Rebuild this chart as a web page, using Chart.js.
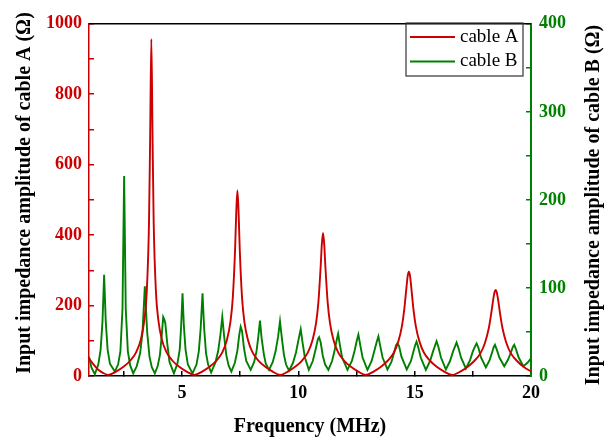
<!DOCTYPE html>
<html>
<head>
<meta charset="utf-8">
<script src="https://cdn.jsdelivr.net/npm/chart.js@4.4.1/dist/chart.umd.min.js"></script>
<style>
  html, body { margin: 0; padding: 0; background: #fff; }
  canvas { display: block; }
</style>
</head>
<body>
<canvas id="impChart" width="613" height="440"></canvas>
<script>
// cable A: frequency (MHz) / input impedance amplitude (ohm)
const freqA = [
  1.0, 1.2, 1.4, 1.6, 1.83,
  2.18, 2.48, 2.78, 3.03, 3.23, 3.38, 3.48, 3.58, 3.63, 3.68, 3.73, 3.78, 3.88, 3.98, 4.13, 4.33, 4.58, 4.88, 5.18, 5.53,
  5.88, 6.18, 6.48, 6.73, 6.93, 7.08, 7.18, 7.28, 7.33, 7.38, 7.43, 7.48, 7.58, 7.68, 7.83, 8.03, 8.28, 8.58, 8.88, 9.22,
  9.56, 9.86, 10.16, 10.41, 10.61, 10.76, 10.86, 10.96, 11.01, 11.06, 11.11, 11.16, 11.26, 11.36, 11.51, 11.71, 11.96, 12.26, 12.56, 12.9,
  13.25, 13.55, 13.85, 14.1, 14.3, 14.45, 14.55, 14.65, 14.7, 14.75, 14.8, 14.85, 14.95, 15.05, 15.2, 15.4, 15.65, 15.95, 16.25, 16.6,
  16.98, 17.28, 17.58, 17.83, 18.03, 18.18, 18.28, 18.38, 18.43, 18.48, 18.53, 18.58, 18.68, 18.78, 18.93, 19.13, 19.38, 19.68, 20.0
];
const zA = [
  50, 32, 18, 9, 3,
  13, 26, 44, 68, 104, 159, 236, 438, 687, 957, 687, 438, 236, 159, 104, 68, 44, 26, 13, 3,
  13, 26, 44, 67, 103, 154, 221, 360, 465, 527, 465, 360, 221, 154, 103, 67, 44, 26, 13, 3,
  13, 26, 44, 67, 102, 150, 209, 313, 375, 406, 375, 313, 209, 150, 102, 67, 44, 26, 13, 3,
  13, 26, 44, 66, 99, 141, 188, 254, 284, 296, 284, 254, 188, 141, 99, 66, 44, 26, 13, 3,
  13, 26, 44, 65, 96, 134, 173, 219, 237, 244, 237, 219, 173, 134, 96, 65, 44, 26, 13
];

// cable B: frequency (MHz) / input impedance amplitude (ohm)
const freqB = [
  1.0, 1.1, 1.25,
  1.4, 1.5, 1.58, 1.65, 1.72, 1.8, 1.9, 2.11,
  2.25, 2.35, 2.44, 2.51, 2.58, 2.67, 2.77, 2.9,
  3.05, 3.2, 3.3, 3.4, 3.5, 3.6, 3.7, 3.83,
  3.95, 4.05, 4.12, 4.19, 4.24, 4.28, 4.36, 4.46, 4.65,
  4.8, 4.9, 4.96, 5.02, 5.08, 5.15, 5.25, 5.45,
  5.62, 5.72, 5.8, 5.88, 5.95, 6.03, 6.12, 6.25,
  6.43, 6.55, 6.65, 6.73, 6.81, 6.9, 7.0, 7.12,
  7.27, 7.38, 7.46, 7.52, 7.58, 7.66, 7.76, 7.95,
  8.1, 8.2, 8.28, 8.35, 8.42, 8.52, 8.6, 8.74,
  8.9, 9.02, 9.13, 9.21, 9.29, 9.38, 9.47, 9.6,
  9.77, 9.9, 10.02, 10.1, 10.18, 10.28, 10.45,
  10.62, 10.73, 10.84, 10.89, 10.96, 11.05, 11.15, 11.29,
  11.45, 11.55, 11.64, 11.71, 11.78, 11.88, 12.11,
  12.3, 12.42, 12.51, 12.58, 12.66, 12.76, 12.97,
  13.15, 13.27, 13.37, 13.44, 13.52, 13.62, 13.83,
  14.0, 14.12, 14.2, 14.26, 14.33, 14.43, 14.66,
  14.84, 14.95, 15.02, 15.08, 15.15, 15.26, 15.48,
  15.66, 15.79, 15.88, 15.94, 16.02, 16.13, 16.34,
  16.52, 16.65, 16.74, 16.8, 16.88, 16.99, 17.2,
  17.38, 17.5, 17.6, 17.66, 17.74, 17.85, 18.06,
  18.22, 18.33, 18.4, 18.45, 18.53, 18.64, 18.85,
  19.02, 19.14, 19.22, 19.28, 19.36, 19.47, 19.67,
  19.85, 20.0
];
const zB = [
  22, 10, 2,
  13, 30, 62, 115, 62, 30, 14, 5,
  13, 28, 76, 227, 76, 28, 12, 3,
  11, 26, 50, 102, 50, 22, 10, 3,
  11, 24, 44, 67, 64, 60, 38, 16, 3,
  14, 30, 56, 94, 56, 30, 13, 3,
  13, 28, 54, 94, 54, 26, 13, 4,
  15, 28, 47, 67, 45, 24, 12, 5,
  15, 29, 47, 56, 51, 32, 17, 7,
  16, 28, 45, 63, 43, 24, 14, 7,
  16, 28, 45, 62, 43, 24, 13, 6,
  15, 27, 43, 53, 38, 21, 7,
  17, 29, 42, 44, 38, 23, 13, 7,
  17, 28, 40, 48, 36, 21, 7,
  17, 29, 40, 47, 35, 21, 7,
  17, 29, 39, 45, 34, 21, 7.5,
  16, 27, 35, 37, 34, 22, 7.5,
  17, 28, 35, 39, 33, 21, 7,
  17, 28, 35, 39.5, 33, 21, 7.5,
  17, 28, 34, 38, 32, 21, 8.6,
  18, 28, 34, 37, 32, 21, 9.7,
  18, 27, 33, 35.4, 30, 21, 11,
  19, 27, 33, 35.4, 30, 21, 11,
  15, 20
];

// tick marks (labels only on the major ones)
const xTicks = [2.5, 5, 7.5, 10, 12.5, 15, 17.5, 20];
const yTicksA = [0, 100, 200, 300, 400, 500, 600, 700, 800, 900, 1000];
const yTicksB = [0, 50, 100, 150, 200, 250, 300, 350, 400];
const xMajor = 5, yMajorA = 200, yMajorB = 100;

const seriesNames = ['cable A', 'cable B'];
const titleX = 'Frequency (MHz)';
const titleA = 'Input impedance amplitude of cable A (\u03A9)';
const titleB = 'Input impedance amplitude of cable B (\u03A9)';

const RED = '#cc0000';
const GREEN = '#008000';
const SERIF = "'Liberation Serif', 'Times New Roman', serif";

Chart.defaults.font.family = SERIF;

const toPoints = (xs, ys) => xs.map((x, i) => ({x, y: ys[i]}));
const setTicks = (list) => (scale) => { scale.ticks = list.map((value) => ({value})); };
const majorOnly = (step) => (v) => (v % step === 0 ? String(v) : '');

// axis titles, boxed legend and the top frame line
const decor = {
    id: 'decor',
    afterDraw(chart) {
        const {ctx, chartArea: a} = chart;
        ctx.save();
        // frame top
        ctx.strokeStyle = '#000';
        ctx.lineWidth = 1.5;
        ctx.beginPath();
        ctx.moveTo(a.left, a.top);
        ctx.lineTo(a.right, a.top);
        ctx.stroke();

        // titles
        ctx.fillStyle = '#000';
        ctx.font = `bold 20px ${SERIF}`;
        ctx.textAlign = 'center';
        ctx.textBaseline = 'middle';
        ctx.fillText(titleX, (a.left + a.right) / 2, 427);
        const vertical = (text, x, y) => {
            ctx.save();
            ctx.translate(x, y);
            ctx.rotate(-Math.PI / 2);
            ctx.fillText(text, 0, 0);
            ctx.restore();
        };
        vertical(titleA, 25, 193);
        vertical(titleB, 594, 205);

        // legend
        const box = {x: 406, y: 23, w: 117, h: 53};
        ctx.strokeStyle = '#333';
        ctx.lineWidth = 1.2;
        ctx.strokeRect(box.x, box.y, box.w, box.h);
        ctx.font = `19px ${SERIF}`;
        ctx.textAlign = 'left';
        chart.data.datasets.forEach((ds, i) => {
            const y = 37 + i * 24.5;
            ctx.strokeStyle = ds.borderColor;
            ctx.lineWidth = 1.8;
            ctx.beginPath();
            ctx.moveTo(410, y);
            ctx.lineTo(455, y);
            ctx.stroke();
            ctx.fillStyle = '#000';
            ctx.fillText(ds.label, 460, y);
        });
        ctx.restore();
    }
};

const inwardGrid = (color) => ({
    drawOnChartArea: false,
    color,
    lineWidth: 1.5,
    tickLength: -5,
});

new Chart(document.getElementById('impChart'), {
    type: 'line',
    data: {
        datasets: [
            {
                label: seriesNames[0],
                data: toPoints(freqA, zA),
                yAxisID: 'yA',
                borderColor: RED,
                borderWidth: 1.9,
                pointRadius: 0,
                cubicInterpolationMode: 'monotone',
            },
            {
                label: seriesNames[1],
                data: toPoints(freqB, zB),
                yAxisID: 'yB',
                borderColor: GREEN,
                borderWidth: 1.9,
                pointRadius: 0,
                tension: 0,
            },
        ],
    },
    options: {
        responsive: false,
        animation: false,
        layout: {padding: {top: 18, left: 0, right: 0, bottom: 0}},
        plugins: {legend: {display: false}, tooltip: {enabled: false}},
        scales: {
            x: {
                type: 'linear',
                position: 'bottom',
                min: 1,
                max: 20,
                afterBuildTicks: setTicks(xTicks),
                afterFit: (s) => { s.height = 64; },
                border: {color: '#000', width: 1.5},
                grid: inwardGrid('#000'),
                ticks: {
                    autoSkip: false,
                    maxRotation: 0,
                    padding: 12,
                    color: '#000',
                    font: {size: 18, weight: 'bold'},
                    callback: majorOnly(xMajor),
                },
            },
            yA: {
                type: 'linear',
                position: 'left',
                min: 0,
                max: 1000,
                afterBuildTicks: setTicks(yTicksA),
                afterFit: (s) => { s.width = 89; },
                border: {color: RED, width: 1.5},
                grid: inwardGrid(RED),
                ticks: {
                    autoSkip: false,
                    padding: 12,
                    color: RED,
                    font: {size: 18, weight: 'bold'},
                    callback: majorOnly(yMajorA),
                },
            },
            yB: {
                type: 'linear',
                position: 'right',
                min: 0,
                max: 400,
                afterBuildTicks: setTicks(yTicksB),
                afterFit: (s) => { s.width = 82; },
                border: {color: GREEN, width: 2},
                grid: inwardGrid(GREEN),
                ticks: {
                    autoSkip: false,
                    padding: 13,
                    color: GREEN,
                    font: {size: 18, weight: 'bold'},
                    callback: majorOnly(yMajorB),
                },
            },
        },
    },
    plugins: [decor],
});
</script>
</body>
</html>
